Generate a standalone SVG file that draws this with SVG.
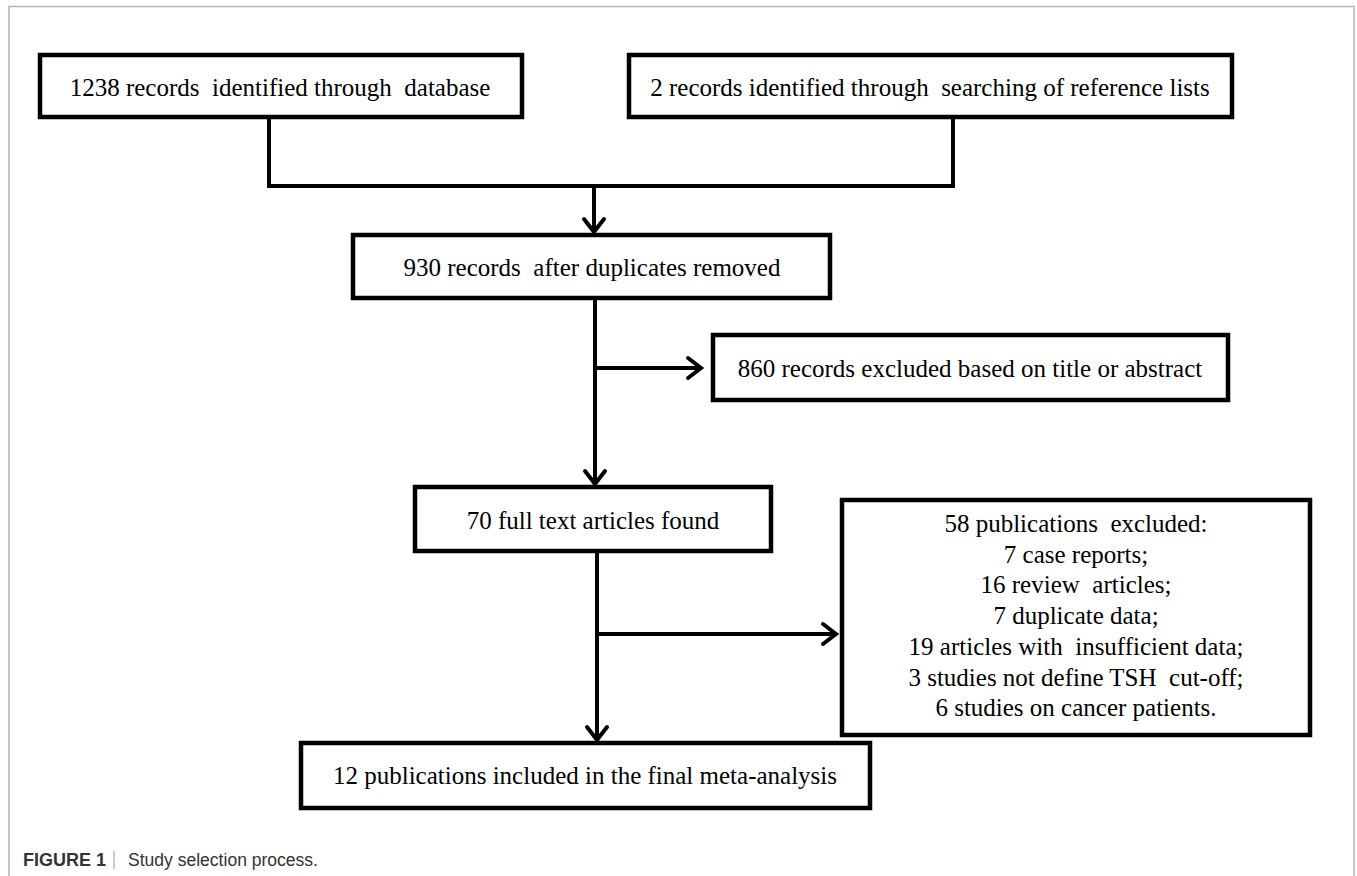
<svg xmlns="http://www.w3.org/2000/svg" width="1357" height="876" viewBox="0 0 1357 876">
<style>
.box{fill:#fff;stroke:#000;stroke-width:4.5;stroke-linejoin:miter}
.t{font-family:"Liberation Serif","Times New Roman",serif;font-size:25px;fill:#000;text-anchor:middle;white-space:pre}
.ln{fill:none;stroke:#000;stroke-width:4;stroke-linecap:square}
.ah{fill:none;stroke:#000;stroke-width:4;stroke-linecap:round;stroke-linejoin:miter}
.cap{font-family:"Liberation Sans",Arial,sans-serif;font-size:18px;fill:#333}
</style>
<rect x="0" y="0" width="1357" height="876" fill="#fff"/>
<path d="M9,880 V6.5 H1354 V880" fill="none" stroke="#b3b3b3" stroke-width="1.5"/>
<g id="connectors">
<path class="ln" d="M269,117 V186 H953 V117"/>
<path class="ln" d="M594,186 V231"/>
<path class="ah" d="M584,219 L594,232 L604,219"/>
<path class="ln" d="M595,298 V483"/>
<path class="ah" d="M585,471 L595,484 L605,471"/>
<path class="ln" d="M595,368 H700"/>
<path class="ah" d="M688,358 L701,368 L688,378"/>
<path class="ln" d="M597,551 V739"/>
<path class="ah" d="M587,727 L597,740 L607,727"/>
<path class="ln" d="M597,634 H835"/>
<path class="ah" d="M823,624 L836,634 L823,644"/>
</g>
<g id="n1"><rect class="box" x="40" y="55" width="482" height="62"/><text class="t" x="280" y="96" xml:space="preserve">1238 records  identified through  database</text></g>
<g id="n2"><rect class="box" x="629" y="55" width="603" height="62"/><text class="t" x="930" y="96" xml:space="preserve">2 records identified through  searching of reference lists</text></g>
<g id="n3"><rect class="box" x="353" y="235" width="477" height="63"/><text class="t" x="592" y="276" xml:space="preserve">930 records  after duplicates removed</text></g>
<g id="n4"><rect class="box" x="713" y="335" width="515" height="65"/><text class="t" x="970" y="377">860 records excluded based on title or abstract</text></g>
<g id="n5"><rect class="box" x="415" y="487" width="356" height="64"/><text class="t" x="593" y="529">70 full text articles found</text></g>
<g id="n6"><rect class="box" x="842" y="500" width="468" height="235"/>
<text class="t" x="1076" y="532" xml:space="preserve">58 publications  excluded:</text>
<text class="t" x="1076" y="563">7 case reports;</text>
<text class="t" x="1076" y="593" xml:space="preserve">16 review  articles;</text>
<text class="t" x="1076" y="624">7 duplicate data;</text>
<text class="t" x="1076" y="655" xml:space="preserve">19 articles with  insufficient data;</text>
<text class="t" x="1076" y="686" xml:space="preserve">3 studies not define TSH  cut-off;</text>
<text class="t" x="1076" y="716">6 studies on cancer patients.</text>
</g>
<g id="n7"><rect class="box" x="301" y="743" width="569" height="65"/><text class="t" x="585" y="784">12 publications included in the final meta-analysis</text></g>
<g id="caption">
<text class="cap" x="23" y="866" font-weight="bold">FIGURE 1</text>
<line x1="114" y1="851" x2="114" y2="869" stroke="#999" stroke-width="1"/>
<text class="cap" x="128" y="866" fill="#444" textLength="190" lengthAdjust="spacingAndGlyphs">Study selection process.</text>
</g>
</svg>
